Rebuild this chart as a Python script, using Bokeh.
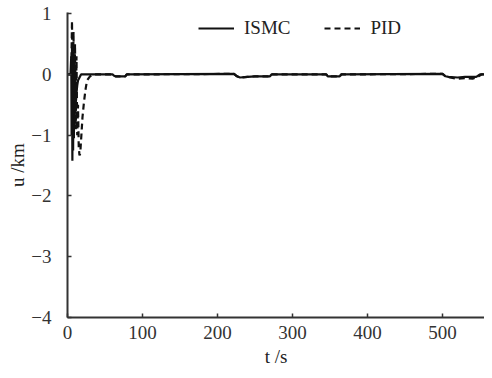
from bokeh.plotting import figure
from bokeh.models import Range1d, FixedTicker, Legend, LegendItem
from bokeh.embed import file_html
from bokeh.resources import INLINE

# ISMC response (t in s, u in km)
ismc_t = [0, 4, 5, 5.5, 6, 6.5, 7, 7.5, 8, 8.5, 9, 9.5, 10, 10.5, 11, 12, 13, 14, 16, 18,
          20, 60, 62, 64, 77, 79, 222, 226, 230, 240, 250, 270, 272, 345, 347, 363, 365,
          500, 504, 508, 520, 530, 545, 550, 556]
ismc_u = [0, 0, 0.3, -1.0, 0.45, -1.42, 0.52, -1.25, 0.35, -1.05, 0.2, -0.85, 0.1, -0.6, -0.45, -0.3, -0.18, -0.1, -0.05, 0,
          0, 0, -0.02, -0.03, -0.03, 0, 0.01, -0.03, -0.05, -0.04, -0.03, -0.03, 0, 0, -0.03, -0.03, 0,
          0.01, -0.03, -0.04, -0.05, -0.04, -0.04, 0, 0]

# PID response
pid_t = [0, 5, 6, 7, 8, 9, 10, 11, 12, 13, 14, 15, 16, 17, 18, 19, 20, 22, 24, 26, 30, 35,
         60, 62, 64, 77, 79, 222, 226, 230, 240, 250, 270, 272, 345, 347, 363, 365,
         500, 504, 510, 520, 530, 540, 548, 552, 556]
pid_u = [0, 0, 0.88, -0.6, 0.7, -0.8, 0.5, -0.9, 0.3, -1.0, -0.5, -1.2, -1.33, -1.3, -1.1, -0.9, -0.7, -0.45, -0.25, -0.1, -0.03, 0,
         0, -0.02, -0.03, -0.03, 0, 0.01, -0.03, -0.05, -0.04, -0.03, -0.03, 0, 0, -0.03, -0.03, 0,
         0.01, -0.03, -0.05, -0.07, -0.06, -0.07, -0.03, 0, 0]

x_ticks = [0, 100, 200, 300, 400, 500]
y_ticks = [-4, -3, -2, -1, 0, 1]
y_tick_labels = ["\u22124", "\u22123", "\u22122", "\u22121", "0", "1"]
series_names = ["ISMC", "PID"]
x_title = "t /s"
y_title = "u /km"

FONT = "Liberation Serif"
AX = "#333333"

p = figure(width=484, height=370, output_backend="svg", toolbar_location=None,
           x_range=Range1d(0, 556), y_range=Range1d(-4, 1.02),
           min_border_left=67, min_border_right=0, min_border_top=12, min_border_bottom=53)
p.outline_line_color = None
p.xgrid.visible = False
p.ygrid.visible = False
p.background_fill_color = "white"
p.border_fill_color = "white"

for ax in (p.xaxis[0], p.yaxis[0]):
    ax.axis_line_color = AX
    ax.axis_line_width = 2
    ax.major_tick_line_color = AX
    ax.major_tick_line_width = 1.5
    ax.major_tick_in = 4
    ax.major_tick_out = 0
    ax.minor_tick_line_color = None
    ax.major_label_text_font = FONT
    ax.major_label_text_font_size = "19px"
    ax.major_label_text_color = AX
    ax.axis_label_text_font = FONT
    ax.axis_label_text_font_size = "19px"
    ax.axis_label_text_font_style = "normal"
    ax.axis_label_text_color = "#222222"
    ax.axis_label_standoff = 0

p.xaxis[0].ticker = FixedTicker(ticks=x_ticks)
p.yaxis[0].ticker = FixedTicker(ticks=y_ticks)
p.yaxis[0].major_label_overrides = {t: s for t, s in zip(y_ticks, y_tick_labels)}
p.xaxis[0].major_label_standoff = 8
p.xaxis[0].axis_label_standoff = 4
p.yaxis[0].major_label_standoff = 16
p.xaxis[0].axis_label = x_title
p.yaxis[0].axis_label = y_title

r1 = p.line(ismc_t, ismc_u, line_color="#111111", line_width=2.2)
r2 = p.line(pid_t, pid_u, line_color="#111111", line_width=2.2, line_dash="6 4")

legend = Legend(items=[LegendItem(label=series_names[0], renderers=[r1]),
                       LegendItem(label=series_names[1], renderers=[r2])],
                orientation="horizontal", location=(131, 278),
                border_line_color=None, background_fill_alpha=0,
                label_text_font=FONT, label_text_font_size="19px", label_text_color="#222222",
                glyph_width=36, glyph_height=20, label_standoff=10, spacing=34,
                padding=0, margin=0)
p.add_layout(legend, "center")

open("out.html", "w").write(file_html(p, INLINE))
